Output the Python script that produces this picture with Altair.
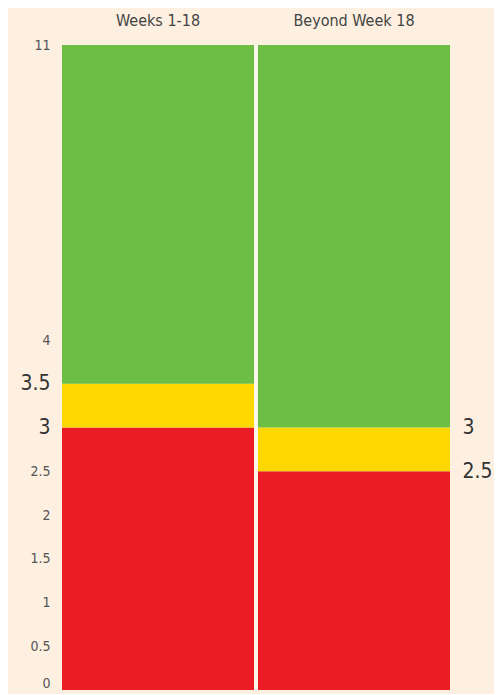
import altair as alt
import pandas as pd

categories = ["Weeks 1-18", "Beyond Week 18"]
red_top = [3, 2.5]
yellow_top = [3.5, 3]
green_top = [11, 11]
zone_names = ["red", "yellow", "green"]
zone_colors = ["#EC1C24", "#FDD800", "#6DBE45"]
left_ticks = [0, 0.5, 1, 1.5, 2, 2.5, 3, 3.5, 4, 11]
right_ticks = [2.5, 3]

rows = []
for i, c in enumerate(categories):
    bounds = [0, red_top[i], yellow_top[i], green_top[i]]
    for j, z in enumerate(zone_names):
        rows.append({"cat": c, "zone": z, "y0": bounds[j], "y1": bounds[j + 1]})
df = pd.DataFrame(rows)

font = "DejaVu Sans Condensed, Roboto Condensed, Roboto"

W, H = 388, 645
y4 = 295

yscale = alt.Scale(domain=[0, 4, 11], range=[H, y4, 0], zero=False, nice=False, clamp=True)
yscale_r = alt.Scale(domain=[0, 4, 11], range=[H, y4, 0], zero=False, nice=False, clamp=True)

big_test = "datum.value == 3 || datum.value == 3.5"

bars = alt.Chart(df).mark_bar(strokeWidth=0).encode(
    x=alt.X("cat:N", sort=categories,
            scale=alt.Scale(paddingInner=0.02, paddingOuter=0),
            axis=alt.Axis(orient="top", title=None, ticks=False, domain=False,
                          labelAngle=0, labelFontSize=16, labelColor="#444444",
                          labelFont=font, labelPadding=17)),
    y=alt.Y("y0:Q", scale=yscale,
            axis=alt.Axis(orient="left", title=None, values=left_ticks, ticks=False,
                          domain=False, grid=False, labelOverlap=False, labelFont=font,
                          labelPadding=12, labelFlush=False,
                          labelExpr="'' + datum.value",
                          labelBaseline={"condition": {"test": "datum.value == 0", "value": "bottom"}, "value": "middle"},
                          labelFontSize={"condition": {"test": big_test, "value": 21}, "value": 14},
                          labelColor={"condition": {"test": big_test, "value": "#333333"}, "value": "#555555"})),
    y2="y1:Q",
    color=alt.Color("zone:N", scale=alt.Scale(domain=zone_names, range=zone_colors), legend=None),
)

right = alt.Chart(df).mark_bar(opacity=0).encode(
    x=alt.X("cat:N", sort=categories),
    y=alt.Y("y0:Q", scale=yscale_r,
            axis=alt.Axis(orient="right", title=None, values=right_ticks, ticks=False,
                          domain=False, grid=False, labelOverlap=False, labelFont=font,
                          labelPadding=12, labelFontSize=21, labelColor="#333333",
                          labelExpr="'' + datum.value")),
    y2="y1:Q",
)

chart = alt.layer(bars, right).resolve_scale(y="independent").properties(
    width=W, height=H,
    autosize=alt.AutoSizeParams(type="none"),
    padding={"left": 54, "top": 37, "right": 44, "bottom": 4},
    background="#FDF0E1",
).configure_view(stroke=None, fill="#FFF8EE")

chart.save("out.html", embed_options={"renderer": "svg", "actions": False})
